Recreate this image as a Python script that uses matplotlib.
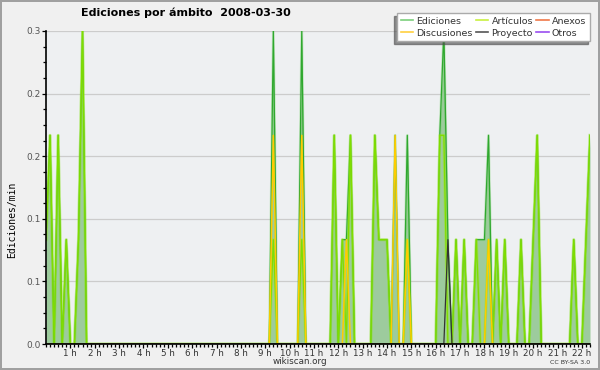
import matplotlib
matplotlib.use('Agg')
import matplotlib.pyplot as plt
from matplotlib.lines import Line2D
from matplotlib.ticker import FixedLocator, MultipleLocator, FormatStrFormatter
import numpy as np

# muestras cada 10 minutos, de 0:00 a 22:20
n_bins = 135
bin_minutes = 10

# valores no nulos (indice de muestra -> ediciones/min)
ed_bins = [0, 1, 3, 5, 8, 9, 56, 63, 71, 73, 74, 75, 81, 82, 83, 84, 86, 89,
           97, 98, 99, 101, 103, 106, 107, 108, 109, 111, 113, 117, 120, 121,
           130, 133, 134]
ed_vals = [0.1, 0.2, 0.2, 0.1, 0.1, 0.3, 0.3, 0.3, 0.2, 0.1, 0.1, 0.2, 0.2, 0.1,
           0.1, 0.1, 0.2, 0.2, 0.2, 0.3, 0.1, 0.1, 0.1, 0.1, 0.1, 0.1, 0.2, 0.1,
           0.1, 0.1, 0.1, 0.2, 0.1, 0.1, 0.2]

art_bins = [0, 1, 3, 5, 8, 9, 56, 63, 71, 73, 75, 81, 82, 83, 84, 89, 97, 98,
            101, 103, 106, 109, 111, 113, 117, 120, 121, 130, 133, 134]
art_vals = [0.1, 0.2, 0.2, 0.1, 0.1, 0.3, 0.1, 0.1, 0.2, 0.1, 0.2, 0.2, 0.1,
            0.1, 0.1, 0.1, 0.2, 0.2, 0.1, 0.1, 0.1, 0.1, 0.1, 0.1, 0.1, 0.1,
            0.2, 0.1, 0.1, 0.2]

disc_bins = [56, 63, 74, 86, 89, 109]
disc_vals = [0.2, 0.2, 0.1, 0.2, 0.1, 0.1]

proy_bins = [99]
proy_vals = [0.1]

anexos_bins, anexos_vals = [], []
otros_bins, otros_vals = [], []

hour_ticks = list(range(1, 23))
hour_labels = [f'{h} h' for h in hour_ticks]
y_ticks = [0.0, 0.06, 0.12, 0.18, 0.24, 0.3]

legend_labels = ['Ediciones', 'Discusiones', 'Artículos', 'Proyecto', 'Anexos', 'Otros']
legend_colors = ['#7ccf7c', '#ffd040', '#c8f040', '#555555', '#f07848', '#9a4ef0']


def serie(bins, vals):
    s = np.zeros(n_bins)
    s[bins] = vals
    return s


x = np.arange(n_bins) * bin_minutes / 60.0
ediciones = serie(ed_bins, ed_vals)
articulos = serie(art_bins, art_vals)
discusiones = serie(disc_bins, disc_vals)
proyecto = serie(proy_bins, proy_vals)
anexos = serie(anexos_bins, anexos_vals)
otros = serie(otros_bins, otros_vals)

fig = plt.figure(figsize=(6, 3.7), dpi=100, facecolor='#f0f0f0',
                 edgecolor='#a0a0a0', linewidth=1.5)
ax = fig.add_axes([46 / 600, 26 / 370, 544 / 600, 313 / 370])
ax.set_facecolor('#eef0f2')

# área de ediciones
ax.fill_between(x, ediciones, color='#9dcb9d', lw=0, zorder=1.5)

# líneas (con un poco de halo)
ax.plot(x, ediciones, color='#66cc55', lw=2.0, alpha=0.3, zorder=2)
ax.plot(x, ediciones, color='#2fa82f', lw=0.9, zorder=2)
ax.plot(x, articulos, color='#99ee00', lw=2.2, alpha=0.35, zorder=2.1)
ax.plot(x, articulos, color='#80dd00', lw=0.9, zorder=2.1)
ax.plot(x, discusiones, color='#ffcc00', lw=1.1, zorder=2.2)
ax.plot(x, proyecto, color='#333333', lw=0.9, zorder=2.3)
ax.plot(x, anexos, color='#f07848', lw=1.0, zorder=1.9)
ax.plot(x, otros, color='#9a4ef0', lw=1.0, zorder=1.9)

ax.set_xlim(0, x[-1])
ax.set_ylim(0, 0.3)

for s in ['top', 'right']:
    ax.spines[s].set_visible(False)
for s in ['left', 'bottom']:
    ax.spines[s].set_linewidth(1.2)
    ax.spines[s].set_zorder(3)

ax.xaxis.set_major_locator(FixedLocator(hour_ticks))
ax.set_xticklabels(hour_labels)
ax.xaxis.set_minor_locator(MultipleLocator(1 / 6))
ax.yaxis.set_major_locator(FixedLocator(y_ticks))
ax.yaxis.set_major_formatter(FormatStrFormatter('%.1f'))
ax.yaxis.set_minor_locator(MultipleLocator(0.015))

ax.tick_params(which='both', direction='out', color='black', width=0.9)
ax.tick_params(which='major', length=3.0)
ax.tick_params(which='minor', length=2.5)
ax.tick_params(axis='x', labelsize=6.3, pad=0.5, labelcolor='#333333')
ax.tick_params(axis='y', labelsize=6.5, pad=1, labelcolor='#555555')

ax.yaxis.grid(True, color='#cccccc', lw=0.9)
ax.set_axisbelow(True)

fig.text(81 / 600, 1 - 13 / 370, 'Ediciones por ámbito  2008-03-30',
         fontsize=8, fontweight='bold', va='center', ha='left')
fig.text(12 / 600, 1 - 220 / 370, 'Ediciones/min', rotation=90,
         family='DejaVu Sans Mono', fontsize=7, va='center', ha='center')
fig.text(300 / 600, 1 - 362 / 370, 'wikiscan.org', fontsize=6.3,
         color='#333333', ha='center', va='center')
fig.text(590 / 600, 1 - 362 / 370, 'CC BY-SA 3.0', fontsize=4.5,
         color='#333333', ha='right', va='center')

handles = [Line2D([0], [0], color=c, lw=1.2) for c in legend_colors]
leg = fig.legend(handles, legend_labels, loc='upper right',
                 bbox_to_anchor=(590 / 600, 1 - 13 / 370), ncol=3,
                 fontsize=6.8, handlelength=1.3, handletextpad=0.35,
                 columnspacing=0.35, labelspacing=0.3, borderpad=0.4,
                 borderaxespad=0, fancybox=False, framealpha=1,
                 edgecolor='#aaaaaa',
                 shadow={'ox': -1.8, 'oy': -1.8, 'alpha': 0.6})
for t in leg.get_texts():
    t.set_color('#333333')

fig.savefig('out.png', dpi=100, facecolor=fig.get_facecolor(),
            edgecolor=fig.get_edgecolor())
